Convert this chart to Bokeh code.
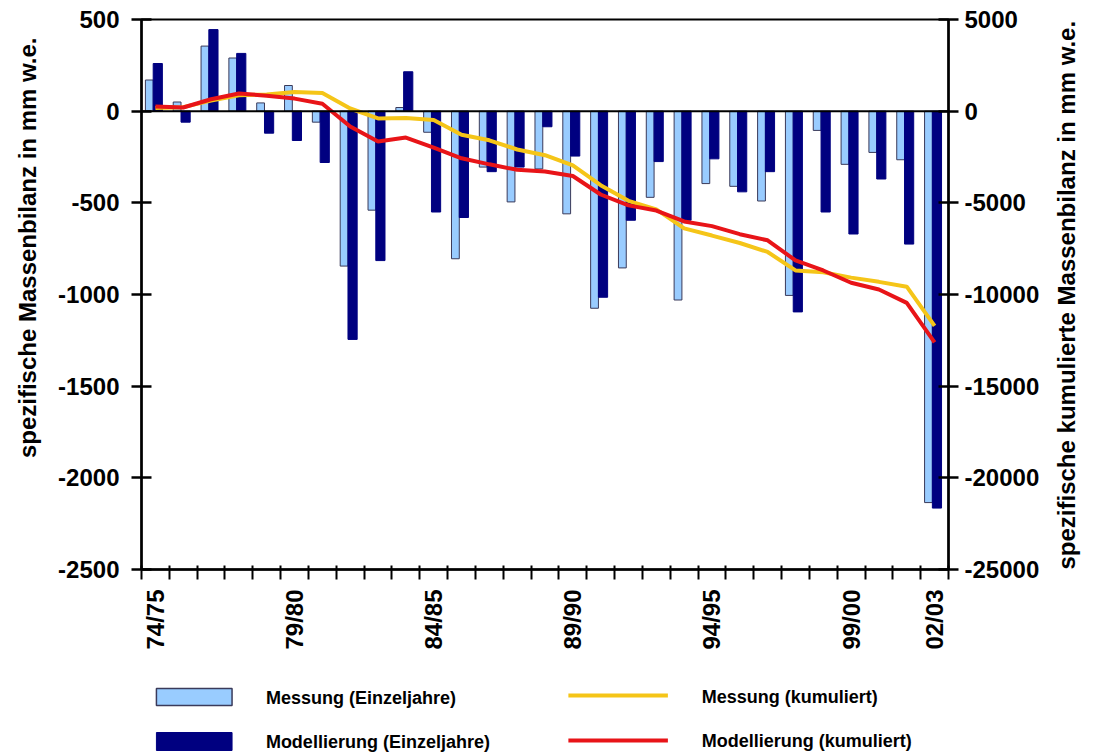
from math import pi
from bokeh.plotting import figure
from bokeh.models import Range1d, LinearAxis, FixedTicker, Span, Title
from bokeh.layouts import column
from bokeh.embed import file_html
from bokeh.resources import INLINE
from bokeh.core.properties import value

# ---------------- data ----------------
years = ["74/75", "75/76", "76/77", "77/78", "78/79", "79/80", "80/81", "81/82",
         "82/83", "83/84", "84/85", "85/86", "86/87", "87/88", "88/89", "89/90",
         "90/91", "91/92", "92/93", "93/94", "94/95", "95/96", "96/97", "97/98",
         "98/99", "99/00", "00/01", "01/02", "02/03"]
label_years = ["74/75", "79/80", "84/85", "89/90", "94/95", "99/00", "02/03"]

messung = [170, 50, 355, 290, 45, 140, -60, -845, -540, 20, -115, -805, -305, -495,
           -315, -560, -1075, -855, -470, -1030, -395, -410, -490, -1005, -105, -290,
           -225, -265, -2135]
modell = [260, -60, 445, 315, -120, -160, -280, -1245, -815, 215, -550, -580, -330,
          -305, -85, -245, -1015, -595, -275, -595, -260, -440, -330, -1095, -550,
          -670, -370, -725, -2165]
messung_kum = [170, 220, 575, 865, 910, 1050, 990, 145, -395, -370, -485, -1290,
               -1590, -2090, -2400, -2960, -4035, -4890, -5360, -6390, -6785, -7190,
               -7680, -8685, -8790, -9080, -9310, -9575, -11710]
modell_kum = [260, 200, 650, 965, 845, 685, 405, -840, -1655, -1440, -1990, -2570,
              -2900, -3200, -3290, -3535, -4545, -5140, -5420, -6015, -6270, -6710,
              -7045, -8140, -8690, -9360, -9725, -10455, -12615]

left_ticks = [-2500, -2000, -1500, -1000, -500, 0, 500]
right_ticks = [-25000, -20000, -15000, -10000, -5000, 0, 5000]

legend_labels = ["Messung (Einzeljahre)", "Modellierung (Einzeljahre)",
                 "Messung (kumuliert)", "Modellierung (kumuliert)"]
left_title = "spezifische Massenbilanz in mm w.e."
right_title = "spezifische kumulierte Massenbilanz in mm w.e."

LIGHT = "#99CCFF"
DARK = "#000080"
YELLOW = "#F5C518"
RED = "#E81418"
FONT = "Liberation Sans"
TICK_FS = "24px"

n = len(years)
centers = [i + 0.5 for i in range(n)]
x_light = [i + 0.28 for i in range(n)]
x_dark = [i + 0.585 for i in range(n)]

# ---------------- main figure ----------------
p = figure(width=1096, height=665, x_range=Range1d(0, n), y_range=Range1d(-2500, 500),
           output_backend="svg", toolbar_location=None,
           min_border_left=140, min_border_right=145, min_border_top=19,
           min_border_bottom=96)
p.xgrid.visible = False
p.ygrid.visible = False
p.outline_line_color = "black"
p.outline_line_width = 2
p.background_fill_color = "white"
p.border_fill_color = "white"

p.extra_y_ranges = {"cum": Range1d(-25000, 5000)}

p.vbar(x=x_light, top=messung, bottom=0, width=0.28, fill_color=LIGHT,
       line_color="#3a3a5a", line_width=1)
p.vbar(x=x_dark, top=modell, bottom=0, width=0.33, fill_color=DARK,
       line_color=DARK, line_width=1)

p.add_layout(Span(location=0, dimension="width", line_color="black", line_width=2))

p.line(x=centers, y=messung_kum, y_range_name="cum", line_color=YELLOW, line_width=4)
p.line(x=centers, y=modell_kum, y_range_name="cum", line_color=RED, line_width=4)

# x axis
xt = [years.index(y) + 0.5 for y in label_years]
xa = p.xaxis[0]
xa.ticker = FixedTicker(ticks=xt, minor_ticks=list(range(n + 1)))
xa.major_label_overrides = {t: l for t, l in zip(xt, label_years)}
xa.major_tick_line_color = None
xa.major_tick_out = 10
xa.major_tick_in = 0
xa.minor_tick_line_color = "black"
xa.minor_tick_line_width = 2
xa.minor_tick_out = 10
xa.minor_tick_in = 4
xa.axis_line_width = 2.5
xa.major_label_orientation = pi / 2
xa.major_label_standoff = 10
xa.major_label_text_font = FONT
xa.major_label_text_font_style = "bold"
xa.major_label_text_font_size = TICK_FS
xa.major_label_text_color = "black"

# left y axis
ya = p.yaxis[0]
ya.ticker = FixedTicker(ticks=left_ticks, minor_ticks=[])
ya.major_label_overrides = {t: str(t) for t in left_ticks}
ya.axis_line_width = 2.5
ya.major_tick_line_width = 2.5
ya.major_tick_in = 10
ya.major_tick_out = 10
ya.major_label_standoff = 12
ya.major_label_text_font = FONT
ya.major_label_text_font_style = "bold"
ya.major_label_text_font_size = TICK_FS
ya.major_label_text_color = "black"

# right y axis
ra = LinearAxis(y_range_name="cum",
                ticker=FixedTicker(ticks=right_ticks, minor_ticks=[]))
ra.major_label_overrides = {t: str(t) for t in right_ticks}
ra.axis_line_width = 2.5
ra.major_tick_line_width = 2.5
ra.major_tick_in = 10
ra.major_tick_out = 10
ra.major_label_standoff = 6
ra.major_label_text_font = FONT
ra.major_label_text_font_style = "bold"
ra.major_label_text_font_size = TICK_FS
ra.major_label_text_color = "black"
ra.axis_label = right_title
ra.axis_label_text_font = FONT
ra.axis_label_text_font_style = "bold"
ra.axis_label_text_font_size = "24px"
ra.axis_label_text_color = "black"
ra.axis_label_standoff = 24
props = ra.properties()
if "axis_label_orientation" in props:
    ra.axis_label_orientation = pi / 2
if "axis_label_align" in props:
    ra.axis_label_align = "start"
p.add_layout(ra, "right")

# left title (reads bottom-to-top), its top end placed like the reference
lt = Title(text=left_title, align="right", offset=18, text_font=FONT,
           text_font_style="bold", text_font_size="24px", text_color="black",
           standoff=26, vertical_align="top")
p.add_layout(lt, "left")

# ---------------- legend figure ----------------
lg = figure(width=1096, height=88, x_range=Range1d(140, 951), y_range=Range1d(753, 665),
            output_backend="svg", toolbar_location=None,
            min_border_left=140, min_border_right=145, min_border_top=0,
            min_border_bottom=0, x_axis_location=None, y_axis_location=None)
lg.outline_line_color = None
lg.xgrid.visible = False
lg.ygrid.visible = False

lg.quad(left=[155], right=[231], top=[688], bottom=[705], fill_color=LIGHT,
        line_color="#3a3a5a", line_width=1.5)
lg.quad(left=[155], right=[231], top=[732], bottom=[750], fill_color=DARK,
        line_color=DARK, line_width=1)
lg.line(x=[569, 669], y=[695, 695], line_color=YELLOW, line_width=4)
lg.line(x=[569, 669], y=[740, 740], line_color=RED, line_width=4)
lg.text(x=[265, 265, 703, 703], y=[697, 741, 696, 740], text=legend_labels,
        text_font=value(FONT), text_font_style="bold", text_font_size="18px",
        text_baseline="middle", text_color="black")

layout = column(p, lg, spacing=0)
open("out.html", "w").write(file_html(layout, INLINE))
